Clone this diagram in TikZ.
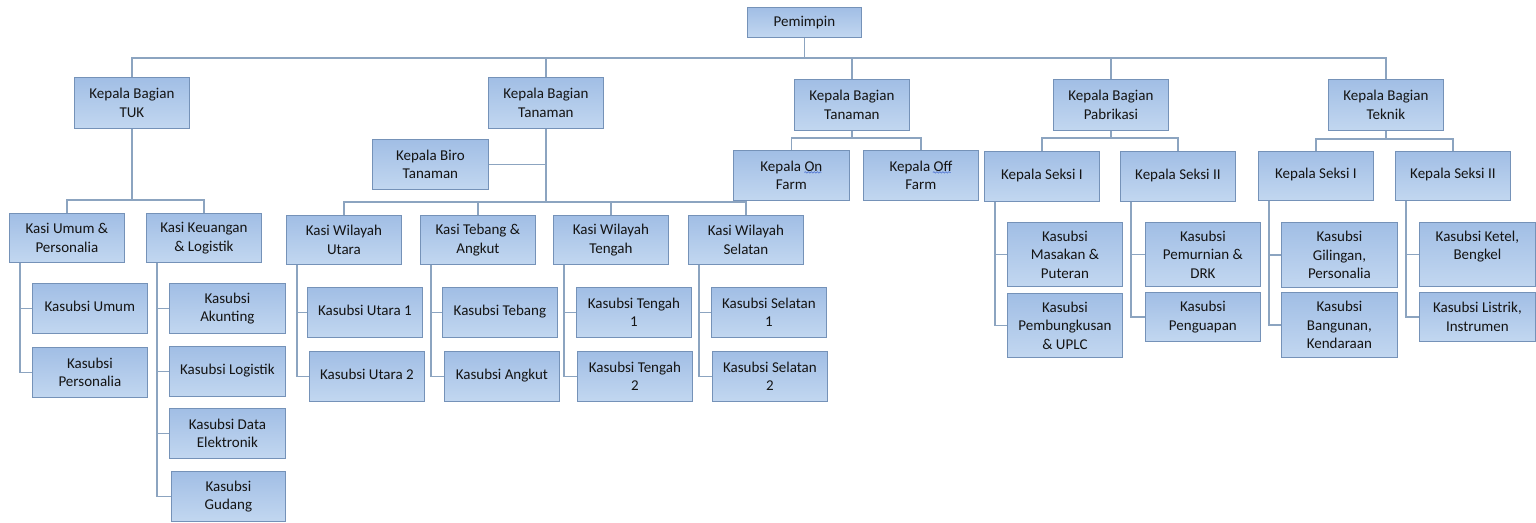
\documentclass[tikz,border=0pt]{standalone}
\usepackage{fontspec}
\setmainfont{Carlito}
\usetikzlibrary{decorations.pathmorphing,backgrounds}
\definecolor{boxtop}{HTML}{A1BEE5}
\definecolor{boxbot}{HTML}{C2D7F0}
\definecolor{boxline}{HTML}{7592B8}
\definecolor{conn}{HTML}{8CA4C0}
\definecolor{squigc}{HTML}{4A6FD0}
\tikzset{
 box/.style={draw=boxline, line width=0.8pt, top color=boxtop, bottom color=boxbot,
   anchor=north west, minimum width=115pt, minimum height=50pt, inner sep=0pt,
   align=center, font=\fontsize{15}{18.5}\selectfont, text=black!92},
 tallbox/.style={minimum height=64pt},
 conline/.style={draw=conn, line width=1.3pt},
 wavy/.style={draw=squigc, line width=0.6pt, decorate,
   decoration={snake, segment length=3pt, amplitude=0.7pt}}
}
\newcommand\up[1]{\raisebox{5pt}{#1}}
\begin{document}
\begin{tikzpicture}[x={(1pt,0)}, y={(0,-1pt)}]
\useasboundingbox (0,0) rectangle (1536,522);
% ---------- nodes ----------
\node[box, minimum width=114pt, minimum height=30pt] (pem) at (747,7) {Pemimpin};
\node[box, minimum height=51pt] (tuk)  at (74,77)   {Kepala Bagian\\TUK};
\node[box, minimum height=51pt] (tan1) at (488,77)  {Kepala Bagian\\Tanaman};
\node[box, minimum height=51pt] (tan2) at (794,79)  {Kepala Bagian\\Tanaman};
\node[box, minimum height=51pt] (pab)  at (1053,79) {Kepala Bagian\\Pabrikasi};
\node[box, minimum height=51pt] (tek)  at (1328,79) {Kepala Bagian\\Teknik};
% TUK
\node[box, minimum height=49pt] (kum)  at (9,213)   {Kasi Umum \&\\Personalia};
\node[box, minimum height=49pt] (kkeu) at (146,213) {Kasi Keuangan\\\& Logistik};
\node[box] (ksumum) at (32,283)  {\up{Kasubsi Umum}};
\node[box] (kspers) at (32,347)  {Kasubsi\\Personalia};
\node[box, minimum width=116pt] (ksakun) at (169,283) {Kasubsi\\Akunting};
\node[box, minimum width=116pt] (kslog)  at (169,346) {\up{Kasubsi Logistik}};
\node[box, minimum width=116pt] (ksdata) at (169,408) {Kasubsi Data\\Elektronik};
\node[box, minimum width=114pt] (ksgud)  at (171,471) {Kasubsi\\Gudang};
% Tanaman 1
\node[box, minimum width=116pt] (biro) at (372,139) {Kepala Biro\\Tanaman};
\node[box, minimum height=49pt] (kutara)   at (286,215) {Kasi Wilayah\\Utara};
\node[box, minimum height=49pt] (ktebang)  at (420,215) {Kasi Tebang \&\\Angkut};
\node[box, minimum height=49pt] (ktengah)  at (553,215) {Kasi Wilayah\\Tengah};
\node[box, minimum height=49pt] (kselatan) at (688,215) {Kasi Wilayah\\Selatan};
\node[box] (ksutara1)   at (307,287) {\up{Kasubsi Utara 1}};
\node[box] (ksutara2)   at (309,351) {\up{Kasubsi Utara 2}};
\node[box] (kstebang)   at (442,287) {\up{Kasubsi Tebang}};
\node[box] (ksangkut)   at (444,351) {\up{Kasubsi Angkut}};
\node[box] (kstengah1)  at (576,287) {Kasubsi Tengah\\1};
\node[box] (kstengah2)  at (577,351) {Kasubsi Tengah\\2};
\node[box] (ksselatan1) at (711,287) {Kasubsi Selatan\\1};
\node[box] (ksselatan2) at (712,351) {Kasubsi Selatan\\2};
% Tanaman 2
\node[box, minimum width=116pt] (onfarm)  at (733,150) {Kepala On\\Farm};
\node[box] (offfarm) at (863,150) {Kepala Off\\Farm};
% Pabrikasi
\node[box] (seksi1p) at (984,151)  {\up{Kepala Seksi I}};
\node[box] (seksi2p) at (1120,151) {\up{Kepala Seksi II}};
\node[box, tallbox] (masakan)      at (1007,222) {Kasubsi\\Masakan \&\\Puteran};
\node[box, tallbox] (pembungkusan) at (1007,293) {Kasubsi\\Pembungkusan\\\& UPLC};
\node[box, tallbox] (pemurnian)    at (1145,222) {Kasubsi\\Pemurnian \&\\DRK};
\node[box, minimum height=49pt] (penguapan) at (1145,292) {Kasubsi\\Penguapan};
% Teknik
\node[box, minimum height=49pt] (seksi1t) at (1258,151) {\up{Kepala Seksi I}};
\node[box, minimum height=49pt] (seksi2t) at (1395,151) {\up{Kepala Seksi II}};
\node[box, minimum width=116pt, minimum height=65pt] (gilingan) at (1281,222) {Kasubsi\\Gilingan,\\Personalia};
\node[box, minimum width=116pt, minimum height=65pt] (bangunan) at (1281,292) {Kasubsi\\Bangunan,\\Kendaraan};
\node[box, tallbox, minimum width=116pt] (ketel) at (1419,222) {Kasubsi Ketel,\\Bengkel\\~};
\node[box, minimum width=116pt, minimum height=49pt] (listrik) at (1419,292) {Kasubsi Listrik,\\Instrumen};
% spell-check squiggles
\draw[wavy] ([xshift=13pt,yshift=3pt]onfarm.center) -- ++(17,0);
\draw[wavy] ([xshift=12pt,yshift=3pt]offfarm.center) -- ++(18,0);
% ---------- connectors ----------
\begin{scope}[on background layer]
\coordinate (bus) at (pem.south |- 0,58);
\draw[conline] (pem.south) -- (bus);
\draw[conline] (tuk.north) |- (bus) -| (tek.north);
\draw[conline] (tan1.north) -- (tan1.north |- bus);
\draw[conline] (tan2.north) -- (tan2.north |- bus);
\draw[conline] (pab.north) -- (pab.north |- bus);
% TUK
\draw[conline] (tuk.south) -- ([yshift=13pt]tuk.south |- kum.north);
\draw[conline] (kum.north) -- ++(0,-13) -| (kkeu.north);
\draw[conline] ([xshift=11pt]kum.south west) |- (ksumum.west);
\draw[conline] ([xshift=11pt]kum.south west) |- (kspers.west);
\draw[conline] ([xshift=11pt]kkeu.south west) |- (ksakun.west);
\draw[conline] ([xshift=11pt]kkeu.south west) |- (kslog.west);
\draw[conline] ([xshift=11pt]kkeu.south west) |- (ksdata.west);
\draw[conline] ([xshift=11pt]kkeu.south west) |- (ksgud.west);
% Tanaman 1
\draw[conline] (tan1.south) -- ([yshift=13pt]tan1.south |- kutara.north);
\draw[conline] (biro.east) -- (biro.east -| tan1.south);
\draw[conline] (kutara.north) -- ++(0,-13) -| (kselatan.north);
\draw[conline] (ktebang.north) -- ++(0,-13);
\draw[conline] (ktengah.north) -- ++(0,-13);
\draw[conline] ([xshift=11pt]kutara.south west) |- (ksutara1.west);
\draw[conline] ([xshift=11pt]kutara.south west) |- (ksutara2.west);
\draw[conline] ([xshift=11pt]ktebang.south west) |- (kstebang.west);
\draw[conline] ([xshift=11pt]ktebang.south west) |- (ksangkut.west);
\draw[conline] ([xshift=11pt]ktengah.south west) |- (kstengah1.west);
\draw[conline] ([xshift=11pt]ktengah.south west) |- (kstengah2.west);
\draw[conline] ([xshift=11pt]kselatan.south west) |- (ksselatan1.west);
\draw[conline] ([xshift=11pt]kselatan.south west) |- (ksselatan2.west);
% Tanaman 2
\draw[conline] (tan2.south) -- ([yshift=12pt]tan2.south |- onfarm.north);
\draw[conline] (onfarm.north) -- ++(0,-12) -| (offfarm.north);
% Pabrikasi
\draw[conline] (pab.south) -- ([yshift=13pt]pab.south |- seksi1p.north);
\draw[conline] (seksi1p.north) -- ++(0,-13) -| (seksi2p.north);
\draw[conline] ([xshift=11pt]seksi1p.south west) |- (masakan.west);
\draw[conline] ([xshift=11pt]seksi1p.south west) |- (pembungkusan.west);
\draw[conline] ([xshift=11pt]seksi2p.south west) |- (pemurnian.west);
\draw[conline] ([xshift=11pt]seksi2p.south west) |- (penguapan.west);
% Teknik
\draw[conline] (tek.south) -- ([yshift=12pt]tek.south |- seksi1t.north);
\draw[conline] (seksi1t.north) -- ++(0,-12) -| (seksi2t.north);
\draw[conline] ([xshift=11pt]seksi1t.south west) |- (gilingan.west);
\draw[conline] ([xshift=11pt]seksi1t.south west) |- (bangunan.west);
\draw[conline] ([xshift=11pt]seksi2t.south west) |- (ketel.west);
\draw[conline] ([xshift=11pt]seksi2t.south west) |- (listrik.west);
\end{scope}
\end{tikzpicture}
\end{document}
